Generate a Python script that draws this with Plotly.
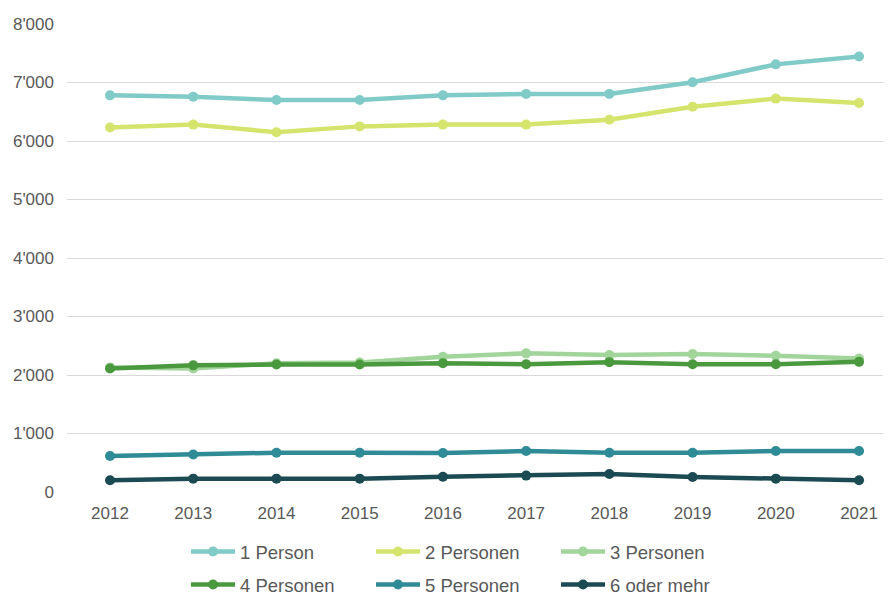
import plotly.graph_objects as go

years = [2012, 2013, 2014, 2015, 2016, 2017, 2018, 2019, 2020, 2021]
p1 = [6780, 6755, 6700, 6700, 6780, 6805, 6805, 7005, 7310, 7445]
p2 = [6230, 6280, 6150, 6250, 6280, 6280, 6365, 6585, 6725, 6650]
p3 = [2130, 2110, 2200, 2215, 2310, 2370, 2340, 2360, 2330, 2280]
p4 = [2110, 2165, 2180, 2180, 2200, 2185, 2220, 2185, 2185, 2225]
p5 = [615, 640, 672, 672, 668, 700, 672, 672, 700, 700]
p6 = [200, 228, 228, 228, 262, 280, 308, 257, 228, 200]

names = ["1 Person", "2 Personen", "3 Personen", "4 Personen", "5 Personen", "6 oder mehr"]
series = [p1, p2, p3, p4, p5, p6]
colors = ["#80cbc8", "#d5e46c", "#a2d59b", "#4b993e", "#2f8b96", "#1b4a52"]
tick_vals = [0, 1000, 2000, 3000, 4000, 5000, 6000, 7000, 8000]
tick_text = ["0", "1'000", "2'000", "3'000", "4'000", "5'000", "6'000", "7'000", "8'000"]

FONT = "Liberation Sans, Arial"

fig = go.Figure()
for i, (n, s, c) in enumerate(zip(names, series, colors)):
    fig.add_trace(go.Scatter(
        x=years, y=s, name=n, mode="lines+markers",
        line=dict(color=c, width=4.5),
        marker=dict(color=c, size=10),
        legend="legend" if i < 3 else "legend2",
    ))

leg_common = dict(orientation="h", xanchor="left", yanchor="middle",
                  xref="container", yref="container",
                  font=dict(family=FONT, size=18.5, color="#595959"),
                  entrywidth=126, entrywidthmode="pixels", itemwidth=44,
                  bgcolor="rgba(0,0,0,0)", tracegroupgap=0)

# the page body adds an 8px offset, so the figure is 8px smaller on each axis
fig.update_layout(
    width=883, height=587,
    margin=dict(l=59, r=2, t=16, b=103, autoexpand=False),
    paper_bgcolor="white", plot_bgcolor="white",
    showlegend=True,
    legend=dict(x=0.2016, y=0.0733, **leg_common),
    legend2=dict(x=0.2016, y=0.017, **leg_common),
    xaxis=dict(
        tickmode="array", tickvals=years, ticktext=[str(y) for y in years],
        range=[2011.483, 2021.36], showgrid=False, zeroline=False, showline=False,
        ticks="", automargin=False, ticklabelstandoff=9,
        tickfont=dict(family=FONT, size=17, color="#595959"),
    ),
    yaxis=dict(
        tickmode="array", tickvals=tick_vals, ticktext=tick_text,
        range=[0, 8000], showgrid=True, gridcolor="#d9d9d9", gridwidth=1,
        zeroline=False, showline=False, ticks="", automargin=False,
        ticklabelstandoff=12,
        tickfont=dict(family=FONT, size=17, color="#595959"),
    ),
)

fig.write_html("out.html")
